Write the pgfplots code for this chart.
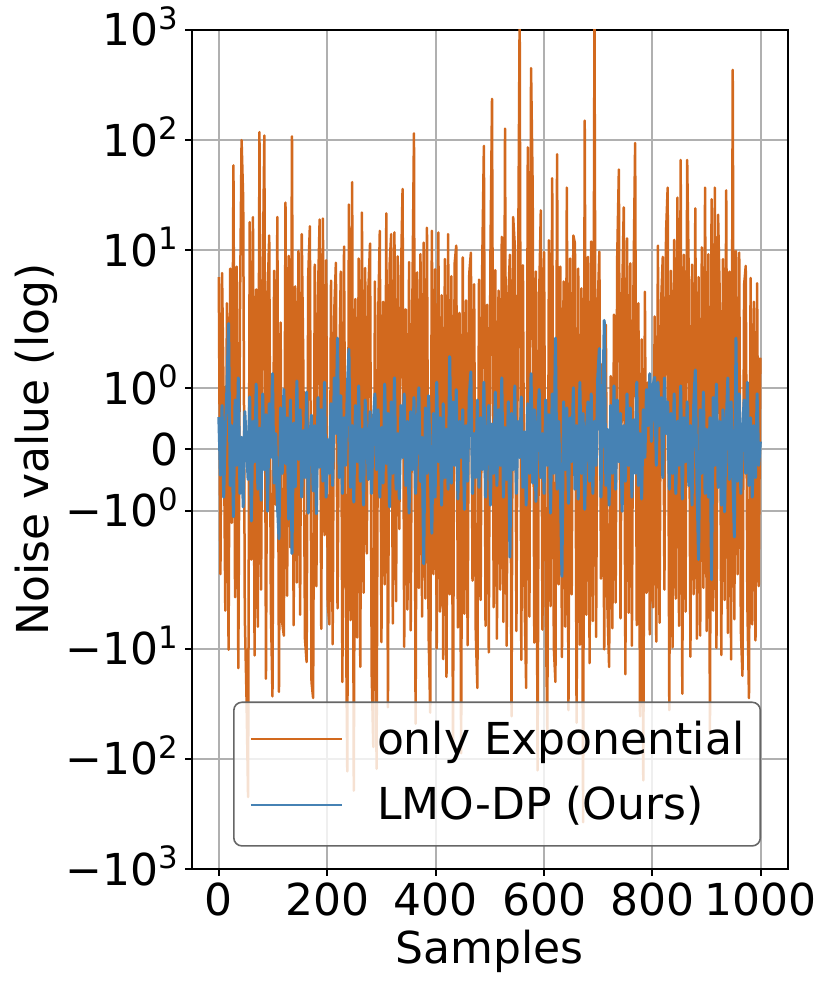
\documentclass[border=0pt]{standalone}
\usepackage{fontspec}
\setmainfont{DejaVu Sans}
\usepackage{pgfplots}
\usepackage{pgfplotstable}
\pgfplotsset{compat=1.18}
\definecolor{expo}{HTML}{D2691E}
\definecolor{lmo}{HTML}{4682B4}
\definecolor{gridc}{HTML}{B0B0B0}
\newcommand{\ex}[1]{\raisebox{8.3pt}{\fontsize{15.4}{18}\selectfont #1}}
\newcommand{\fs}{\fontsize{22}{26}\selectfont}
% only Exponential noise, samples 0,3,6,...,999
\pgfplotstableread[row sep=\\]{v\\
5.7\\ -2.1\\ 6.2\\ 0.8\\ -4.5\\ 3.3\\ -10.2\\ 6.8\\ -1.2\\ 59\\
-3.4\\ 7.1\\ -15\\ 2.6\\ 100\\ 29\\ -5.2\\ -25.7\\ -222\\ 18\\
-1.8\\ 20\\ -11.5\\ 4.4\\ -6.3\\ 118\\ -2.9\\ 5.1\\ 110\\ -18.7\\
3.8\\ 13.6\\ -4.1\\ -27\\ 6.5\\ -0.9\\ 20\\ -24.6\\ 2.2\\ -5.8\\
-7.6\\ 27\\ -3.3\\ 8.9\\ -1.6\\ 108\\ -6.1\\ 4.7\\ -2.5\\ 9.8\\
-4.9\\ 14\\ 1.3\\ -8.2\\ -13.2\\ 5.9\\ 16.5\\ -20\\ -28\\ 7.4\\
-2.7\\ 4.1\\ 19\\ -6.6\\ 19.4\\ -1.4\\ 8.1\\ -3.9\\ -6\\ 5.3\\
-9.1\\ 2.8\\ 7.7\\ -4.3\\ 1.1\\ 6.4\\ -20\\ 10.8\\ -2.2\\ -130\\
26\\ -5.5\\ 41.5\\ -194\\ 3.6\\ -7.9\\ 8.4\\ -14.6\\ 22\\ -3.1\\
6.9\\ -1.7\\ 4.6\\ 11.5\\ -16.8\\ -78\\ 5.2\\ -123\\ 2.4\\ 15\\
-8.7\\ 3.4\\ -2.6\\ 21.6\\ -34\\ 7.2\\ 14\\ -5.9\\ 14.5\\ -3.7\\
8.8\\ -1.3\\ 5.6\\ 36\\ -9.6\\ 2.9\\ -4.4\\ 7.8\\ -6.8\\ 3.1\\
115\\ -48\\ 6.3\\ -2.8\\ 9.2\\ -5.1\\ 11.7\\ -3.5\\ 16\\ -7.3\\
-38\\ 15\\ -2.1\\ 6.7\\ -9.9\\ 14.5\\ -4.6\\ 3.9\\ -12.4\\ 8.3\\
-18\\ 14\\ -3.2\\ 5.8\\ -78\\ 7.5\\ 11\\ -6.4\\ 2.7\\ -89\\
8.6\\ -4.8\\ 3.5\\ -9.3\\ 6.1\\ 9.5\\ -2.4\\ 4.9\\ -7.1\\ -22.7\\
5.4\\ -3.6\\ 7.9\\ 88.6\\ -6.2\\ 3.2\\ -10.8\\ 8.2\\ 237\\ -4.2\\
6.6\\ -8.1\\ 4.3\\ -2.9\\ 13.2\\ -5.7\\ 127\\ -9.4\\ 3.7\\ 9.1\\
-41\\ 20\\ 11\\ -6.9\\ 4.8\\ 1500\\ -12.6\\ 7.3\\ -3.4\\ -22.7\\
86\\ -5.1\\ 451\\ 36\\ -8.8\\ 6.4\\ -127\\ 3.9\\ 23\\ -6.7\\
9.6\\ -3.8\\ -57\\ 12.3\\ -4.1\\ 45\\ -9.7\\ -20\\ 74.5\\ -2.6\\
7.1\\ -11.9\\ 5.2\\ -6.3\\ 37\\ -36\\ 8.4\\ -3.2\\ 13.6\\ 11.5\\
-47\\ 6.8\\ -9.2\\ 4.5\\ -376\\ 150\\ -4.9\\ 8.7\\ -13.5\\ 12\\
-5.6\\ 1500\\ -7.8\\ 3.1\\ 9.7\\ -2.3\\ 1.4\\ -10.1\\ 2.1\\ -4.4\\
-14.6\\ 1.2\\ -6.5\\ 2.6\\ -3.8\\ 8.9\\ 54\\ -5.3\\ 3.6\\ 24.5\\
-17\\ 12.8\\ -4.7\\ 7.6\\ -9.4\\ 5.1\\ 94\\ -6.1\\ 3.3\\ -41\\
1.8\\ -157\\ 4.2\\ -3.1\\ 1.1\\ -7.4\\ 0.9\\ -4.2\\ 2.5\\ -8.6\\
11\\ -5.8\\ 3.4\\ 8.7\\ -2.9\\ 14.2\\ 37\\ -36\\ 6.5\\ -9.7\\
12.4\\ -3.5\\ 30\\ -6.2\\ 66\\ -25.6\\ 9.1\\ -4.6\\ 66\\ 5.3\\
-11.8\\ 7.4\\ -3.2\\ 24\\ -8.1\\ 5.7\\ -7.6\\ 10.6\\ -2.8\\ 37\\
-6.9\\ 9.2\\ -57\\ 29\\ -4.5\\ 37\\ -9.8\\ 21\\ 4.1\\ -11.4\\
8.3\\ -3.6\\ 35\\ -7.2\\ 6.4\\ -12.5\\ 434\\ -5.4\\ 9.8\\ -2.1\\
9.5\\ -6.7\\ -17.6\\ 4.8\\ 7.2\\ -3.9\\ -28\\ 5.6\\ -6\\ 3.4\\
-8.4\\ 5\\ -2.7\\ 1.5\\
}\expodata
% LMO-DP noise, samples 0,3,6,...,999
\pgfplotstableread[row sep=\\]{v\\
0.53\\ -0.42\\ 0.72\\ -0.78\\ 0.27\\ 1.01\\ 2.16\\ -0.59\\ 0.39\\ -1.1\\
0.81\\ -0.26\\ 1.17\\ -0.72\\ 0.2\\ -0.94\\ 0.62\\ 0.07\\ -0.49\\ 0.86\\
-1.17\\ 0.46\\ -0.2\\ 1.07\\ -0.65\\ 0.35\\ -0.83\\ 0.91\\ -0.33\\ 0.57\\
-1.01\\ 0.75\\ -0.13\\ 1.24\\ -0.55\\ 0.26\\ -0.88\\ -1.46\\ 0.68\\ -0.39\\
0.98\\ -0.23\\ 0.52\\ -1.14\\ 0.81\\ -1.7\\ 0.43\\ -0.61\\ 1.12\\ -0.16\\
0.65\\ -0.78\\ 0.31\\ -0.46\\ 0.94\\ -1.04\\ 0.21\\ 0.56\\ -0.68\\ 0.39\\
-1.05\\ 0.85\\ -0.29\\ 0.65\\ -0.52\\ 1.1\\ -0.78\\ 0.16\\ -0.39\\ 0.75\\
-0.59\\ 1.17\\ 0.26\\ 1.82\\ -0.46\\ 0.88\\ -0.72\\ 0.52\\ -0.26\\ 0.98\\
1.64\\ -0.62\\ 0.39\\ -0.86\\ 0.72\\ -0.2\\ 1.04\\ -0.52\\ 0.33\\ -0.91\\
0.81\\ 0.13\\ -0.49\\ 0.62\\ -0.72\\ 0.46\\ 0.91\\ -0.33\\ 0.65\\ -0.78\\
0.36\\ -0.55\\ 1.07\\ -0.23\\ 0.59\\ -0.94\\ 0.78\\ -0.39\\ 1.17\\ -0.65\\
0.26\\ -0.81\\ 0.72\\ -0.13\\ 0.91\\ -0.59\\ 0.46\\ -1.04\\ 0.62\\ -0.33\\
0.85\\ -0.72\\ 0.39\\ 1.01\\ -0.52\\ 0.2\\ -1.87\\ 0.68\\ -0.39\\ 0.88\\
-0.26\\ -1.37\\ 0.59\\ -0.78\\ 1.1\\ -0.2\\ 0.52\\ -0.91\\ 0.75\\ -0.46\\
0.33\\ -0.65\\ 1.52\\ -0.55\\ 0.78\\ -0.26\\ 0.98\\ -0.81\\ 0.46\\ -0.13\\
0.65\\ -0.98\\ 0.39\\ -0.52\\ 0.88\\ 1.27\\ -0.72\\ 0.26\\ -0.46\\ 0.81\\
-0.62\\ 0.52\\ -0.33\\ 1.1\\ -0.78\\ 0.2\\ 0.72\\ -0.91\\ 0.42\\ -0.39\\
0.94\\ -0.59\\ 0.65\\ -0.26\\ 1.17\\ -0.78\\ 0.36\\ -0.49\\ 0.78\\ -1.76\\
0.59\\ -0.33\\ 1.04\\ -0.72\\ 0.46\\ -0.13\\ 0.86\\ -0.62\\ 0.29\\ -0.91\\
0.75\\ -0.39\\ 1.24\\ -0.55\\ 0.65\\ -0.85\\ 0.39\\ 0.98\\ -0.46\\ 0.26\\
-0.72\\ 0.81\\ -0.26\\ 0.57\\ -1.04\\ 0.91\\ -0.39\\ 1.82\\ -0.65\\ 0.46\\
-0.59\\ -2.2\\ 0.78\\ -0.33\\ 0.68\\ -0.88\\ 0.52\\ -0.2\\ 1.01\\ -0.65\\
0.39\\ -0.81\\ 1.1\\ -0.39\\ 0.59\\ -0.98\\ 0.26\\ 0.78\\ -0.52\\ 0.91\\
-0.72\\ 0.46\\ -0.26\\ 1.17\\ 1.65\\ -0.78\\ 0.52\\ 2.3\\ -0.59\\ 0.33\\
-0.91\\ 0.72\\ -0.39\\ 1.04\\ -0.65\\ 0.81\\ -0.2\\ 0.59\\ -1.01\\ 0.39\\
-0.52\\ 0.91\\ -0.26\\ 0.68\\ -0.78\\ 0.49\\ -0.39\\ 1.1\\ -0.59\\ 0.26\\
-0.81\\ 0.65\\ -0.13\\ 0.98\\ 0.39\\ 1.24\\ 0.13\\ 1.04\\ 1.18\\ -0.26\\
1.1\\ 0.39\\ 0.85\\ -0.46\\ 1.17\\ 0.26\\ 0.78\\ -0.65\\ 0.59\\ -0.39\\
0.91\\ -0.72\\ 0.46\\ -0.26\\ 1.04\\ -0.81\\ 0.52\\ -0.2\\ 0.78\\ -0.59\\
0.39\\ -0.91\\ 0.72\\ 1.3\\ -0.52\\ -1.8\\ 0.65\\ -0.39\\ 0.94\\ -0.72\\
0.33\\ -0.78\\ 0.52\\ -2.36\\ 0.85\\ -0.26\\ 1.07\\ -0.62\\ 0.46\\ -0.91\\
0.65\\ -1.02\\ 0.39\\ 1.17\\ -0.49\\ 0.78\\ -0.33\\ -1.43\\ 1.82\\ -0.52\\
0.91\\ -0.72\\ 0.26\\ 0.81\\ -0.39\\ 1.1\\ -0.59\\ 0.52\\ -0.78\\ 0.39\\
-0.46\\ 0.91\\ -0.26\\ 0.13\\
}\lmodata
\begin{document}
\begin{tikzpicture}
\begin{axis}[
  at={(0pt,0pt)}, anchor=south west,
  scale only axis, width=298.15pt, height=419.5pt,
  xmin=-50, xmax=1050, ymin=-3.810081, ymax=3.810081,
  declare function={sl(\v)=((\v>0)-(\v<0))*(min(abs(\v),2)*0.555556+log10(max(abs(\v),2)/2));},
  xtick={0,200,400,600,800,1000},
  xticklabels={0,200,400,600,800,1000},
  ytick={-3.810081,-2.810081,-1.810081,-0.555556,0,0.555556,1.810081,2.810081,3.810081},
  yticklabels={{−10\ex{3}},{−10\ex{2}},{−10\ex{1}},{−10\ex{0}},{0},{10\ex{0}},{10\ex{1}},{10\ex{2}},{10\ex{3}}},
  tick align=outside, xtick pos=bottom, ytick pos=left,
  major tick length=3.3pt,
  tick style={black, line width=1pt},
  axis line style={line width=1pt},
  grid=major, major grid style={gridc, line width=1pt},
  tick label style={font=\fs},
  yticklabel style={anchor=base east, inner sep=0pt, yshift=-8pt, xshift=-3.2pt},
  xticklabel style={anchor=base, inner sep=0pt, yshift=-19.7pt},
  label style={font=\fs},
  xlabel={Samples}, ylabel={Noise value (log)},
  xlabel style={at={(axis description cs:0.5,0)}, anchor=base, yshift=-47pt},
  ylabel style={at={(axis description cs:-0.2405,0.5)}, anchor=base},
  legend image code/.code={\draw[#1, line cap=butt, line width=1.1pt] (0pt,7.5pt) -- (45.5pt,7.5pt);},
  legend style={at={(rel axis cs:0.0693,0.0266)}, anchor=south west,
    draw=black!60, line width=0.8pt, rounded corners=4pt,
    fill=white, fill opacity=0.8, draw opacity=1, text opacity=1,
    inner xsep=8pt, inner ysep=9pt, row sep=11.8pt, column sep=17pt,
    font=\fs,
    nodes={inner sep=0pt, text height=17pt, text depth=4pt, anchor=base west}},
]
\addplot[expo, line width=1.25pt, line join=round] table[x index=0, y index=0, x expr=\coordindex*3, y expr={sl(\thisrow{v})}] {\expodata};
\addlegendentry{only Exponential}
\addplot[lmo, line width=1.5pt, line join=round] table[x index=0, y index=0, x expr=\coordindex*3, y expr={sl(\thisrow{v})}] {\lmodata};
\addlegendentry{LMO-DP (Ours)}
\end{axis}
\pgfresetboundingbox
\path[use as bounding box] (-95.85pt,-59.5pt) rectangle (319.65pt,434.5pt);
\end{tikzpicture}
\end{document}
